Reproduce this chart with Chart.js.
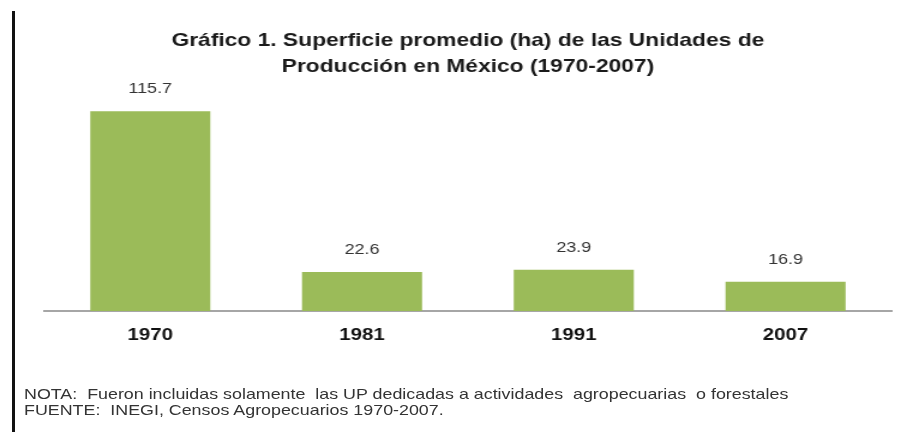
<!DOCTYPE html>
<html lang="es">
<head>
<meta charset="utf-8">
<title>Superficie promedio de las Unidades de Producción</title>
<script src="https://cdn.jsdelivr.net/npm/chart.js@4.4.1/dist/chart.umd.min.js"></script>
<style>
  html, body { margin: 0; padding: 0; background: #fff; }
  #wrap { position: relative; width: 907px; height: 432px; overflow: hidden; }
  /* canvas is drawn narrower and stretched to 907px, giving the wide lettering */
  #wrap canvas { position: absolute; left: 0; top: 0; }
  .edge { position: absolute; left: 12px; top: 11px; width: 3px; height: 421px; background: #111; }
  .notes {
    position: absolute; left: 24px; top: 386px; white-space: nowrap;
    font: 15px "Liberation Sans", Arial, sans-serif; color: #333; line-height: 16px;
    transform: scaleX(1.19); transform-origin: 0 0;
  }
</style>
</head>
<body>
<div id="wrap">
  <canvas id="chart" width="756" height="432" style="width:907px;height:432px"></canvas>
  <div class="edge"></div>
  <div class="notes">
    NOTA:&nbsp; Fueron incluidas solamente&nbsp; las UP dedicadas a actividades&nbsp; agropecuarias&nbsp; o forestales<br>
    FUENTE:&nbsp; INEGI, Censos Agropecuarios 1970-2007.
  </div>
</div>
<script>
// --- DATA ---
const years = ['1970', '1981', '1991', '2007'];
const superficie = [115.7, 22.6, 23.9, 16.9];
const titleLines = ['Gráfico 1. Superficie promedio (ha) de las Unidades de', 'Producción en México (1970-2007)'];

const FONT = '"Liberation Sans", Arial, sans-serif';

// value printed above each bar
const barValues = {
    id: 'barValues',
    afterDatasetsDraw(chart) {
        const ctx = chart.ctx;
        const meta = chart.getDatasetMeta(0);
        ctx.save();
        ctx.font = '15px ' + FONT;
        ctx.fillStyle = '#333';
        ctx.textAlign = 'center';
        ctx.textBaseline = 'middle';
        meta.data.forEach((bar, i) => {
            ctx.fillText(superficie[i].toFixed(1), bar.x, bar.y - 22);
        });
        ctx.restore();
    }
};

new Chart(document.getElementById('chart'), {
    type: 'bar',
    data: {
        labels: years,
        datasets: [{
            data: superficie,
            backgroundColor: '#9bbb59',
            borderWidth: 0,
            categoryPercentage: 1,
            barPercentage: 0.567
        }]
    },
    options: {
        responsive: false,
        devicePixelRatio: 1,
        animation: false,
        layout: { padding: { left: 37, right: 13, top: 0, bottom: 81 } },
        plugins: {
            legend: { display: false },
            tooltip: { enabled: false },
            title: {
                display: true,
                text: titleLines,
                color: '#1a1a1a',
                font: { family: FONT, size: 19, weight: 'bold', lineHeight: 1.37 },
                padding: { top: 28, bottom: 15 }
            }
        },
        scales: {
            y: { display: false, min: 0, max: 125 },
            x: {
                grid: { display: false, drawTicks: false },
                border: { display: true, color: '#a6a6a6', width: 2 },
                ticks: { color: '#111', padding: 14, font: { family: FONT, size: 17, weight: 'bold' } },
                afterFit(scale) { scale.height = 40; }
            }
        }
    },
    plugins: [barValues]
});
</script>
</body>
</html>
